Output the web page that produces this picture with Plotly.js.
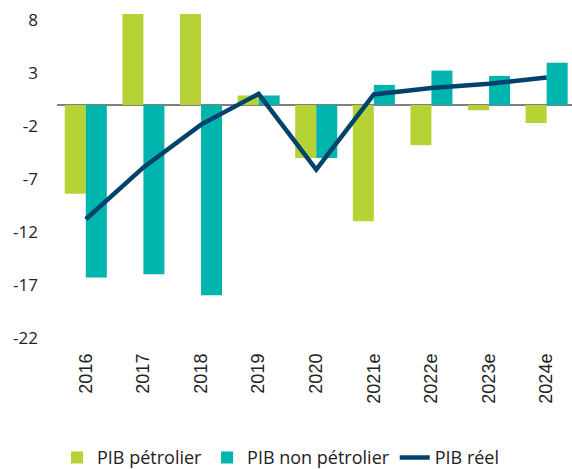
<!DOCTYPE html>
<html>
<head>
<meta charset="utf-8">
<script src="https://cdn.plot.ly/plotly-3.0.1.min.js"></script>
<style>
  html, body { margin: 0; padding: 0; background: #fff; }
  #chart { width: 572px; height: 469px; }
</style>
</head>
<body>
<div id="chart"></div>
<script>
const years = ["2016", "2017", "2018", "2019", "2020", "2021e", "2022e", "2023e", "2024e"];
const pibPetrolier = [-8.4, 8.6, 8.6, 0.9, -5.0, -11.0, -3.8, -0.5, -1.7];
const pibNonPetrolier = [-16.3, -16.0, -18.0, 0.9, -5.0, 1.9, 3.25, 2.75, 4.0];
const pibReel = [-10.8, -5.9, -1.85, 1.05, -6.1, 1.0, 1.6, 2.0, 2.6];
const yTicks = [8, 3, -2, -7, -12, -17, -22];

const traces = [
  { type: "bar", name: "PIB pétrolier", x: years, y: pibPetrolier,
    marker: { color: "#b5d334" } },
  { type: "bar", name: "PIB non pétrolier", x: years, y: pibNonPetrolier,
    marker: { color: "#00b5ad" } },
  { type: "scatter", mode: "lines", name: "PIB réel", x: years, y: pibReel,
    line: { color: "#00426b", width: 4.5 } }
];

const layout = {
  width: 572, height: 469,
  margin: { l: 57, r: 0, t: 13, b: 125, autoexpand: false },
  paper_bgcolor: "#fff", plot_bgcolor: "#fff",
  barmode: "group", bargap: 0.27, bargroupgap: 0,
  showlegend: true,
  legend: {
    orientation: "h", x: 0, xanchor: "left",
    yref: "container", y: 0.024, yanchor: "middle",
    font: { family: "Open Sans, sans-serif", size: 18, color: "#222" },
    traceorder: "normal"
  },
  xaxis: {
    type: "category", range: [-0.5, 8.44], automargin: false,
    tickangle: -90, showgrid: false, zeroline: false, showline: false,
    ticks: "", ticklabelstandoff: 5,
    tickfont: { family: "Liberation Sans, Arial, sans-serif", size: 18, color: "#222" }
  },
  yaxis: {
    range: [-22.6, 8.7], tickvals: yTicks, ticktext: yTicks.map(String), automargin: false,
    showgrid: false, zeroline: true, zerolinecolor: "#808080", zerolinewidth: 2,
    showline: false, ticks: "", ticklabelstandoff: 18,
    tickfont: { family: "Open Sans, sans-serif", size: 17, color: "#222" }
  }
};

Plotly.newPlot("chart", traces, layout, { displayModeBar: false, staticPlot: true });
</script>
</body>
</html>
